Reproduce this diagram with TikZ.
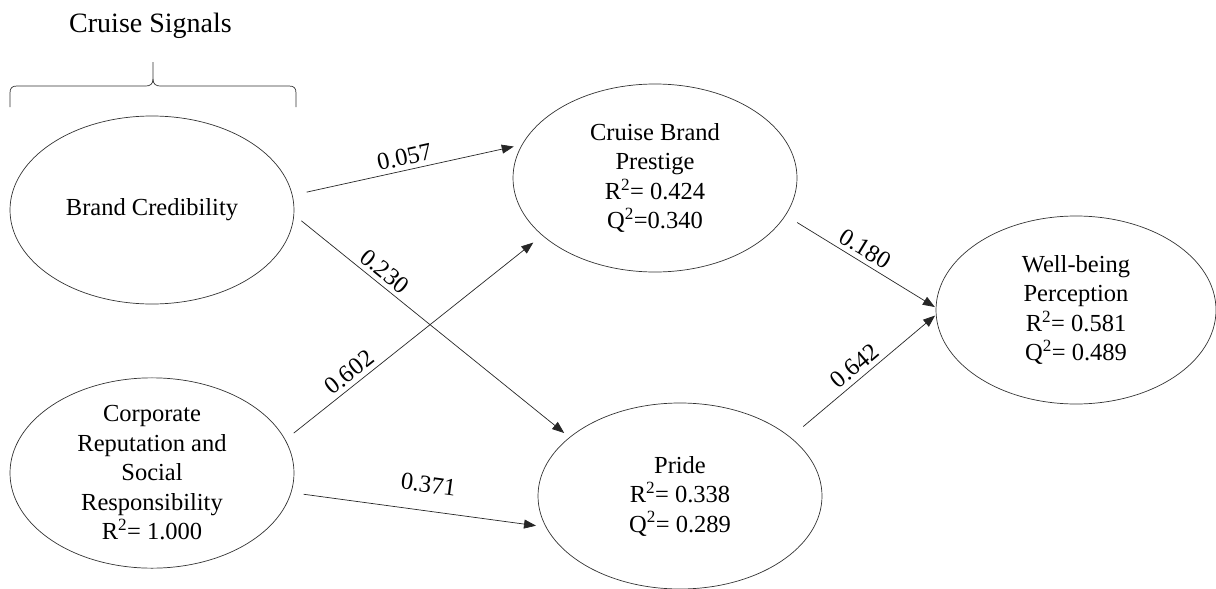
\documentclass[tikz,border=0pt]{standalone}
\usepackage{fontspec}
\setmainfont{Liberation Serif}
\usetikzlibrary{arrows.meta,shapes.geometric}
\begin{document}
\begin{tikzpicture}[x=1pt,y=-1pt,
  latent/.style={draw=black!80, line width=0.7pt, ellipse, minimum width=284pt, minimum height=188pt, inner sep=0pt, align=center, font=\fontsize{24.5}{29.5}\selectfont},
  pathline/.style={draw=black!85, line width=0.7pt, -{Triangle[length=12pt,width=9pt]}},
  coef/.style={sloped, above=4.5pt, inner sep=0pt, font=\fontsize{24.5}{29.5}\selectfont},
  bracestyle/.style={draw=black!80, line width=0.7pt}]
\useasboundingbox (0,0) rectangle (1216,589);

% title and brace
\node[font=\fontsize{28}{33}\selectfont, anchor=base, inner sep=0pt] (title) at (150.5,32) {Cruise Signals};
\draw[bracestyle] (10,107) -- (10,93) .. controls (10,88) and (12,86) .. (17,86) -- (146,86)
  .. controls (150,86) and (153,84) .. (153,79) -- (153,62);
\draw[bracestyle] (296,107) -- (296,93) .. controls (296,88) and (294,86) .. (289,86) -- (160,86)
  .. controls (156,86) and (153,84) .. (153,79);

% constructs
\node[latent] (bc) at (152,210) {Brand Credibility};
\node[latent] (cr) at (152,473) {Corporate\\Reputation and\\Social\\Responsibility\\R\textsuperscript{2}= 1.000};
\node[latent] (cbp) at (655,178) {Cruise Brand\\Prestige\\R\textsuperscript{2}= 0.424\\Q\textsuperscript{2}=0.340};
\node[latent, minimum height=186pt] (pride) at (680,496) {Pride\\R\textsuperscript{2}= 0.338\\Q\textsuperscript{2}= 0.289};
\node[latent, minimum width=280pt] (wbp) at (1076,310) {Well-being\\Perception\\R\textsuperscript{2}= 0.581\\Q\textsuperscript{2}= 0.489};

% paths
\draw[pathline, shorten <=14.3pt, shorten >=8.2pt] (bc.6.67) -- node[coef, pos=0.5] (l1) {0.057} (cbp.166.9);
\draw[pathline, shorten <=9.3pt, shorten >=6.7pt] (bc.-2.28) -- node[coef, pos=0.30] (l2) {0.230} (pride.152.47);
\draw[pathline, shorten <=10.6pt, shorten >=11.3pt] (cr.14.13) -- node[coef, pos=0.28] (l3) {0.602} (cbp.207.31);
\draw[pathline, shorten <=12.4pt, shorten >=9.8pt] (cr.-8.29) -- node[coef, pos=0.525, above=13pt] (l4) {0.371} (pride.193.37);
\draw[pathline, shorten <=13.5pt, shorten >=1pt] (cbp.-16.85) -- node[coef, pos=0.485] (l5) {0.180} (wbp.179.19);
\draw[pathline, shorten <=16.6pt, shorten >=1pt] (pride.28.94) -- node[coef, pos=0.5] (l6) {0.642} (wbp.182.03);
\end{tikzpicture}
\end{document}
